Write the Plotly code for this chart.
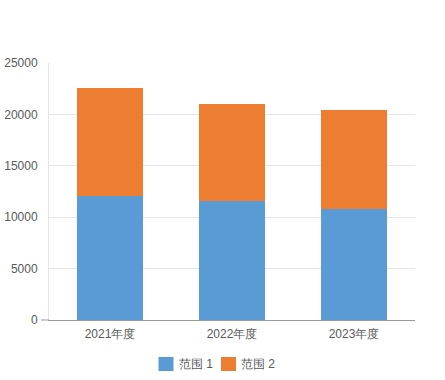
import plotly.graph_objects as go

categories = ["2021年度", "2022年度", "2023年度"]
series1 = [12100, 11600, 10800]
series2 = [10500, 9400, 9600]
series_names = ["范围 1", "范围 2"]
colors = ["#5B9BD5", "#ED7D31"]

fig = go.Figure()
for name, vals, c in zip(series_names, [series1, series2], colors):
    fig.add_trace(go.Bar(x=categories, y=vals, name=name, showlegend=False,
                         marker=dict(color=c, line=dict(width=0)), width=0.54))

# manual legend (pixel positions converted to paper coords)
L, T, W, H = 49, 63, 366, 257
def px(x):
    return (x - L) / W
def py(y):
    return (T + H - y) / H

legend_x = [158.5, 221]
for name, c, lx in zip(series_names, colors, legend_x):
    fig.add_shape(type="rect", xref="paper", yref="paper",
                  x0=px(lx), x1=px(lx + 15), y0=py(371), y1=py(357),
                  fillcolor=c, line=dict(width=0))
    fig.add_annotation(text=name, xref="paper", yref="paper", x=px(lx + 18), y=py(364),
                       xanchor="left", yanchor="middle", showarrow=False,
                       font=dict(size=12, color="#595959"))

# small extension of the baseline to the left
fig.add_shape(type="line", xref="paper", yref="paper", x0=px(41), x1=0, y0=0, y1=0,
              line=dict(color="#999999", width=1))

fig.update_layout(
    barmode="stack",
    width=445, height=380,
    margin=dict(l=L, r=445 - L - W, t=T, b=380 - T - H),
    plot_bgcolor="white", paper_bgcolor="white",
    font=dict(family="Liberation Sans, Arial, sans-serif", size=12, color="#595959"),
    showlegend=False,
    yaxis=dict(range=[0, 25000], dtick=5000, showgrid=True, gridcolor="#e6e6e6", gridwidth=1,
               showline=True, linecolor="#e6e6e6", zeroline=False, ticks="", tickformat="d",
               automargin=False, ticklabelstandoff=8),
    xaxis=dict(showline=True, linecolor="#999999", ticks="", showgrid=False,
               automargin=False, ticklabelstandoff=3),
)
fig.write_html("out.html", config={"displayModeBar": False},
               post_script="document.body.style.margin='0';")
